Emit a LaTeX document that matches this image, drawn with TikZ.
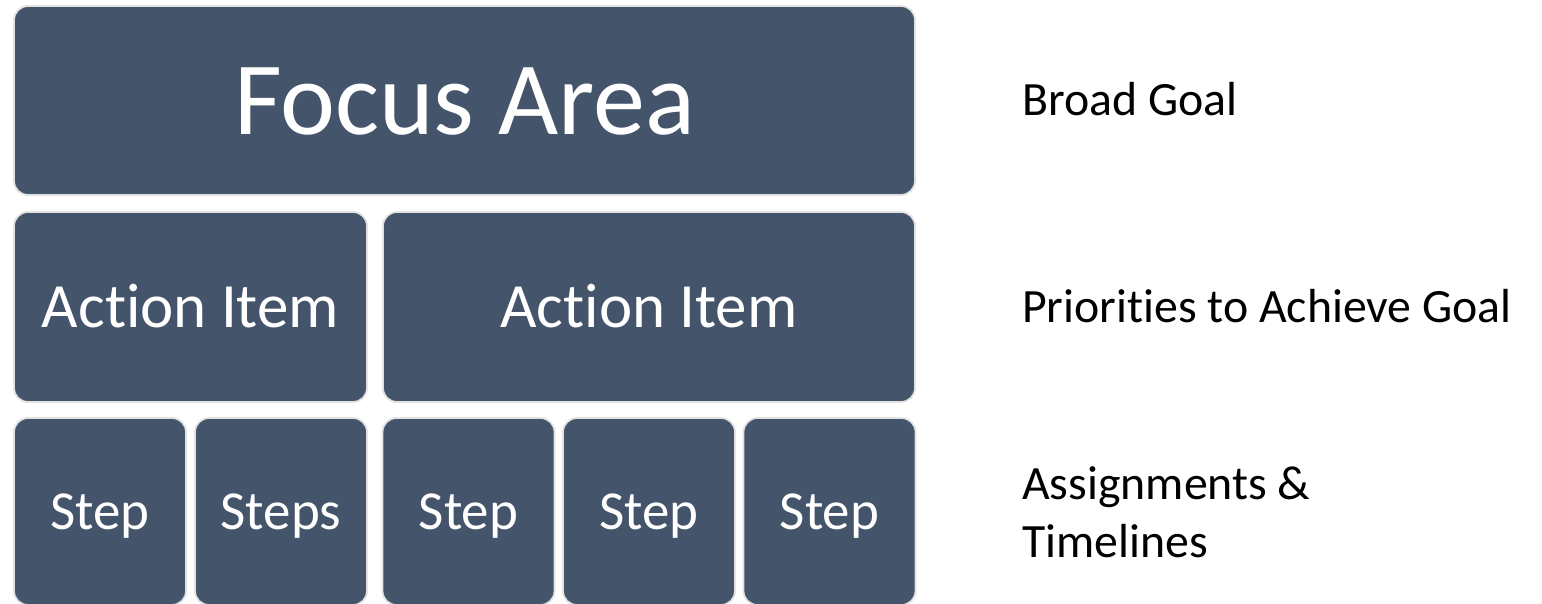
\documentclass[tikz,border=0pt]{standalone}
\usepackage{fontspec}
\setmainfont{Carlito}[Ligatures={NoCommon,NoContextual,NoRare}, RawFeature={-liga;-clig;-dlig}]
\definecolor{boxfill}{HTML}{44546A}
\definecolor{boxline}{HTML}{E2E2E2}
\begin{document}
\begin{tikzpicture}[x=1pt,y=-1pt,
  blk/.style={draw=boxline, line width=1.8pt, fill=boxfill, rounded corners=14pt,
    text=white, inner sep=0pt, text depth=0pt, align=center},
  big/.style={font=\fontsize{104}{120}\selectfont, text height=67pt},
  mid/.style={font=\fontsize{63}{74}\selectfont, text height=40.5pt},
  sml/.style={font=\fontsize{55}{64}\selectfont, text height=35.4pt},
  lbl/.style={anchor=base west, inner sep=0pt, text=black, font=\fontsize{47.8}{58}\selectfont, align=left}]
\useasboundingbox (0,0) rectangle (1542,603);
% row 1
\node[blk, big, minimum width=901pt, minimum height=189pt] (focus) at (464.5,100.5) {Focus Area};
% row 2
\node[blk, mid, minimum width=353pt, minimum height=190pt] (act1) at (190.5,307) {Action Item};
\node[blk, mid, minimum width=532pt, minimum height=190pt] (act2) at (649,307) {Action Item};
% row 3
\node[blk, sml, minimum width=172pt, minimum height=187pt] (s1) at (100,511.5) {Step};
\node[blk, sml, minimum width=172pt, minimum height=187pt] (s2) at (281,511.5) {Steps};
\node[blk, sml, minimum width=172pt, minimum height=187pt] (s3) at (468.5,511.5) {Step};
\node[blk, sml, minimum width=172pt, minimum height=187pt] (s4) at (649,511.5) {Step};
\node[blk, sml, minimum width=172pt, minimum height=187pt] (s5) at (829.5,511.5) {Step};
% labels
\node[lbl] (l1) at (1022,115) {Broad Goal};
\node[lbl] (l2) at (1022,322) {Priorities to Achieve Goal};
\node[lbl] (l3) at (1022,557) {Assignments \&\\Timelines};
\end{tikzpicture}
\end{document}
